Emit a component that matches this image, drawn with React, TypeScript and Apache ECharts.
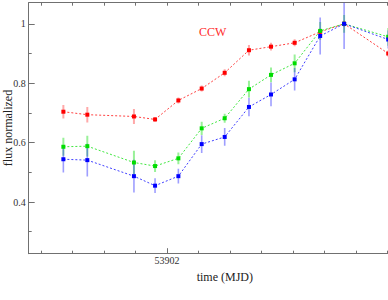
import React, { useEffect, useRef } from "react";
import * as echarts from "echarts";

const times = [53901.671, 53901.747, 53901.895, 53901.962, 53902.036, 53902.11, 53902.183, 53902.26, 53902.33, 53902.405, 53902.486, 53902.562, 53902.702];
const redFlux = [0.704, 0.694, 0.688, 0.678, 0.742, 0.782, 0.835, 0.911, 0.923, 0.936, 0.973, 1.0, 0.9];
const redErr = [0.023, 0.026, 0.025, 0.008, 0.01, 0.01, 0.012, 0.018, 0.013, 0.012, 0.01, 0.01, 0.01];
const greenFlux = [0.586, 0.588, 0.533, 0.521, 0.547, 0.648, 0.682, 0.78, 0.828, 0.867, 0.976, 1.0, 0.956];
const greenErr = [0.03, 0.035, 0.04, 0.02, 0.02, 0.022, 0.015, 0.028, 0.025, 0.03, 0.03, 0.03, 0.03];
const blueFlux = [0.544, 0.541, 0.487, 0.455, 0.487, 0.595, 0.619, 0.72, 0.762, 0.813, 0.959, 1.0, 0.947];
const blueErr = [0.045, 0.055, 0.055, 0.025, 0.025, 0.03, 0.03, 0.031, 0.04, 0.038, 0.062, 0.085, 0.03];

const xTicks = [53901.6, 53901.7, 53901.8, 53901.9, 53902.0, 53902.1, 53902.2, 53902.3, 53902.4, 53902.5, 53902.6, 53902.7, 53902.8];
const xLabels = [53902];
const yMajor = [0.4, 0.6, 0.8, 1.0];
const yMinor = [0.3, 0.5, 0.7, 0.9];

const X_MIN = 53901.561;
const X_MAX = 53902.806;
const Y_MIN = 0.226;
const Y_MAX = 1.071;

const AXIS = "#707070";
const FONT = "Liberation Serif";

function errSeries(flux: number[], err: number[], color: string, width: number) {
  return {
    type: "custom",
    data: times.map((t, i) => [t, flux[i], err[i]]),
    encode: { x: 0, y: 1 },
    clip: true,
    renderItem: (params: any, api: any) => {
      const x = api.value(0);
      const y = api.value(1);
      const e = api.value(2);
      const p1 = api.coord([x, y - e]);
      const p2 = api.coord([x, y + e]);
      return {
        type: "line",
        shape: { x1: p1[0], y1: p1[1], x2: p2[0], y2: p2[1] },
        style: { stroke: color, lineWidth: width },
      };
    },
  };
}

function lineSeries(flux: number[], color: string) {
  return {
    type: "line",
    data: times.map((t, i) => [t, flux[i]]),
    symbol: "rect",
    symbolSize: 4,
    itemStyle: { color },
    lineStyle: { color, width: 1, type: [2, 2], opacity: 0.75 },
  };
}

export default function App() {
  const ref = useRef<HTMLDivElement>(null);
  useEffect(() => {
    if (!ref.current) return;
    const chart = echarts.init(ref.current, null, { renderer: "svg" });
    const baseX = {
      type: "value",
      min: X_MIN,
      max: X_MAX,
      splitLine: { show: false },
    };
    chart.setOption({
      animation: false,
      grid: { left: 28.7, right: 9, top: 2.7, bottom: 46.3, containLabel: false, outerBoundsMode: "none" },
      xAxis: [
        {
          ...baseX,
          position: "bottom",
          axisLine: { show: true, lineStyle: { color: AXIS, width: 1 } },
          axisTick: { show: true, inside: true, length: 3, customValues: xTicks, lineStyle: { color: AXIS } },
          axisLabel: {
            show: true,
            customValues: xLabels,
            margin: 2,
            fontFamily: FONT,
            fontSize: 10,
            color: "#333",
            formatter: (v: number) => String(Math.round(v)),
          },
          name: "time (MJD)",
          nameLocation: "middle",
          nameGap: 11,
          nameTextStyle: { fontFamily: FONT, fontSize: 12, color: "#222" },
        },
        {
          ...baseX,
          position: "bottom",
          axisLine: { show: false },
          axisTick: { show: true, inside: true, length: 5.5, customValues: xLabels, lineStyle: { color: AXIS } },
          axisLabel: { show: false },
        },
        {
          ...baseX,
          position: "top",
          axisLine: { show: true, lineStyle: { color: AXIS, width: 1 } },
          axisTick: { show: true, inside: true, length: 3, customValues: xTicks, lineStyle: { color: AXIS } },
          axisLabel: { show: false },
        },
      ],
      yAxis: [
        {
          type: "value",
          min: Y_MIN,
          max: Y_MAX,
          position: "left",
          splitLine: { show: false },
          axisLine: { show: true, lineStyle: { color: AXIS, width: 1 } },
          axisTick: { show: true, inside: true, length: 6, customValues: yMajor, lineStyle: { color: AXIS } },
          axisLabel: {
            show: true,
            customValues: yMajor,
            margin: 3,
            fontFamily: FONT,
            fontSize: 10,
            color: "#333",
            formatter: (v: number) => (Math.abs(v - 1) < 1e-9 ? "1" : v.toFixed(1)),
          },
        },
        {
          type: "value",
          min: Y_MIN,
          max: Y_MAX,
          position: "left",
          splitLine: { show: false },
          axisLine: { show: false },
          axisTick: { show: true, inside: true, length: 3, customValues: yMinor, lineStyle: { color: AXIS } },
          axisLabel: { show: false },
        },
      ],
      graphic: [
        {
          type: "text",
          left: 199,
          top: 26,
          style: { text: "CCW", fill: "#ff2a2a", font: `12px "${FONT}"` },
        },
        {
          type: "text",
          x: 7.5,
          y: 128,
          rotation: Math.PI / 2,
          style: {
            text: "flux normalized",
            fill: "#222",
            font: `12px "${FONT}"`,
            align: "center",
            verticalAlign: "middle",
          },
        },
      ],
      series: [
        errSeries(redFlux, redErr, "rgba(255,40,40,0.4)", 2),
        lineSeries(redFlux, "#ff0000"),
        errSeries(greenFlux, greenErr, "rgba(0,220,0,0.4)", 2),
        lineSeries(greenFlux, "#00dd00"),
        errSeries(blueFlux, blueErr, "rgba(40,40,255,0.45)", 1.6),
        lineSeries(blueFlux, "#0000ff"),
      ],
    });
    return () => chart.dispose();
  }, []);
  return (
    <div style={{ position: "absolute", left: 0, top: 0, width: 388, height: 300, overflow: "hidden", background: "#fff" }}>
      <div ref={ref} style={{ width: 430, height: 300 }} />
    </div>
  );
}
